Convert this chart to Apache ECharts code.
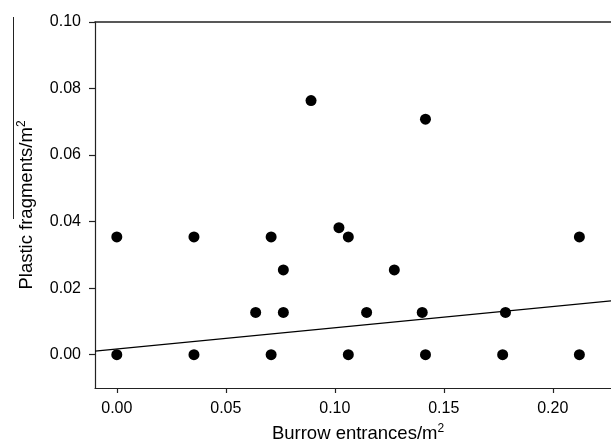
<!DOCTYPE html>
<html>
<head>
<meta charset="utf-8">
<script src="https://cdn.jsdelivr.net/npm/echarts@6/dist/echarts.min.js"></script>
<style>html,body{margin:0;padding:0;background:#fff;}#c{width:611px;height:444px;}</style>
</head>
<body>
<div id="c"></div>
<script>
var burrowX = [0.0, 0.0, 0.0354, 0.0354, 0.0637, 0.0708, 0.0708, 0.0764, 0.0764, 0.0891, 0.1019, 0.1062, 0.1062, 0.1146, 0.1273, 0.1401, 0.1416, 0.1416, 0.1770, 0.1783, 0.2122, 0.2122];
var plasticY = [0.0, 0.0354, 0.0354, 0.0, 0.0127, 0.0354, 0.0, 0.0255, 0.0127, 0.0764, 0.0382, 0.0354, 0.0, 0.0127, 0.0255, 0.0127, 0.0708, 0.0, 0.0, 0.0127, 0.0354, 0.0];
var xTicks = [0.00, 0.05, 0.10, 0.15, 0.20];
var yTicks = [0.00, 0.02, 0.04, 0.06, 0.08, 0.10];
var fitIntercept = 0.0017;
var fitSlope = 0.064;
var xMin = -0.01, xMax = 0.2267, yMin = -0.01, yMax = 0.10;

var pts = burrowX.map(function(x, i){ return [x, plasticY[i]]; });
var fitLine = [[xMin, fitIntercept + fitSlope*xMin], [xMax, fitIntercept + fitSlope*xMax]];

var font = 'Liberation Sans, Arial, sans-serif';
var axisLineStyle = {color: '#222', width: 1.2};
var supStyle = {fontFamily: font, fontSize: 12, verticalAlign: 'top', padding: [0,0,9,0], color: '#000'};
var chart = echarts.init(document.getElementById('c'), null, {renderer: 'canvas'});
chart.setOption({
  animation: false,
  backgroundColor: '#fff',
  grid: {left: 95, right: 0, top: 22, bottom: 56, containLabel: false, outerBoundsMode: 'none'},
  xAxis: [{
    type: 'value', min: xMin, max: xMax, position: 'bottom',
    name: 'Burrow entrances/m{sup|2}', nameLocation: 'middle', nameGap: 35,
    nameTextStyle: {fontFamily: font, fontSize: 18.5, color: '#000', padding: [0,0,0,10], rich: {sup: supStyle}},
    axisLine: {show: true, onZero: false, lineStyle: axisLineStyle},
    axisTick: {show: true, length: 5, inside: false, customValues: xTicks, lineStyle: axisLineStyle},
    axisLabel: {customValues: xTicks, margin: 13, fontFamily: font, fontSize: 16, color: '#000',
      formatter: function(v){ return v.toFixed(2); }},
    splitLine: {show: false}
  }, {
    type: 'value', min: xMin, max: xMax, position: 'top',
    axisLine: {show: true, onZero: false, lineStyle: {color: '#222', width: 1.6}},
    axisTick: {show: false}, axisLabel: {show: false}, splitLine: {show: false}
  }],
  yAxis: {
    type: 'value', min: yMin, max: yMax,
    name: 'Plastic fragments/m{sup|2}', nameLocation: 'middle', nameGap: 58,
    nameTextStyle: {fontFamily: font, fontSize: 18.5, color: '#000', rich: {sup: supStyle}},
    axisLine: {show: true, onZero: false, lineStyle: axisLineStyle},
    axisTick: {show: true, length: 6, customValues: yTicks, lineStyle: axisLineStyle},
    axisLabel: {customValues: yTicks, margin: 14, fontFamily: font, fontSize: 16, color: '#000',
      formatter: function(v){ return v.toFixed(2); }},
    splitLine: {show: false}
  },
  graphic: [{
    type: 'line', shape: {x1: 13.5, y1: 17, x2: 13.5, y2: 219},
    style: {stroke: '#222', lineWidth: 1}
  }],
  series: [{
    type: 'line', data: fitLine, showSymbol: false, symbol: 'none',
    lineStyle: {color: '#000', width: 1.2}, z: 2
  }, {
    type: 'scatter', data: pts, symbol: 'circle', symbolSize: 11,
    itemStyle: {color: '#000', opacity: 1}, z: 3
  }]
});
</script>
</body>
</html>
